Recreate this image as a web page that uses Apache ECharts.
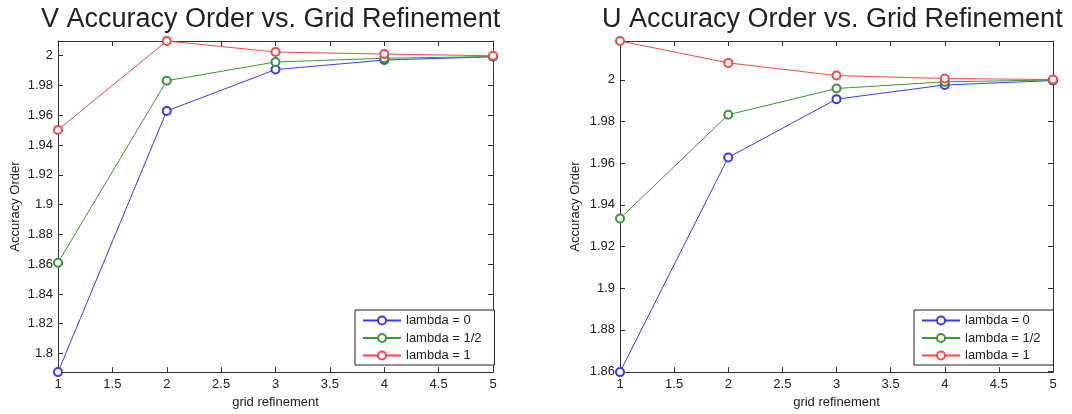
<!DOCTYPE html>
<html>
<head>
<meta charset="utf-8">
<script src="https://cdn.jsdelivr.net/npm/echarts@6/dist/echarts.min.js"></script>
<style>
html,body{margin:0;padding:0;background:#fff;}
#chart{width:1072px;height:414px;}
</style>
</head>
<body>
<div id="chart"></div>
<script>
// ---- data ----
const gridRefinement = [1, 2, 3, 4, 5];
const seriesNames = ['lambda = 0', 'lambda = 1/2', 'lambda = 1'];
const titles = ['V Accuracy Order vs. Grid Refinement', 'U Accuracy Order vs. Grid Refinement'];
const xAxisName = 'grid refinement';
const yAxisName = 'Accuracy Order';

const vLambda0   = [1.7875, 1.9629, 1.9907, 1.9971, 1.9993];
const vLambdaHalf = [1.8610, 1.9832, 1.9958, 1.9983, 1.9995];
const vLambda1   = [1.9502, 2.0099, 2.0025, 2.0011, 2.0000];

const uLambda0   = [1.8597, 1.9627, 1.9907, 1.9975, 1.9996];
const uLambdaHalf = [1.9334, 1.9832, 1.9958, 1.9990, 1.9999];
const uLambda1   = [2.0186, 2.0081, 2.0020, 2.0006, 2.0001];

const vYRange = [1.7875, 2.0099];
const uYRange = [1.8597, 2.0186];
const xRange = [1, 5];
const xStep = 0.5;
const yStep = 0.02;

// ---- styles ----
const colors = ['#3a3af2', '#3b963b', '#f04a4a'];
const FONT = 'Liberation Sans, Arial, sans-serif';
const axisColor = '#333';
const txtColor = '#222';

const grids = [
  {left: 58, right: 579, top: 41, bottom: 38},
  {left: 620, right: 19, top: 41, bottom: 38}
];

function fmt(v){ return String(parseFloat(v.toFixed(4))); }

const xAxes = [], yAxes = [], series = [];
[vYRange, uYRange].forEach((yr, gi) => {
  xAxes.push({
    type: 'value', gridIndex: gi, min: xRange[0], max: xRange[1], interval: xStep,
    position: 'bottom',
    name: xAxisName, nameLocation: 'middle', nameGap: 22,
    nameTextStyle: {fontFamily: FONT, fontSize: 13, color: txtColor},
    axisLine: {show: true, lineStyle: {color: axisColor, width: 1}},
    axisTick: {show: true, inside: true, length: 5, lineStyle: {color: axisColor}},
    axisLabel: {margin: 6, fontFamily: FONT, fontSize: 13, color: txtColor, formatter: fmt},
    splitLine: {show: false}
  });
  xAxes.push({
    type: 'value', gridIndex: gi, min: xRange[0], max: xRange[1], interval: xStep,
    position: 'top',
    axisLine: {show: true, lineStyle: {color: axisColor, width: 1}},
    axisTick: {show: true, inside: true, length: 5, lineStyle: {color: axisColor}},
    axisLabel: {show: false},
    splitLine: {show: false}
  });
  yAxes.push({
    type: 'value', gridIndex: gi, min: yr[0], max: yr[1],
    splitNumber: 10, minInterval: yStep, maxInterval: yStep,
    position: 'left',
    name: yAxisName, nameLocation: 'middle', nameGap: gi === 0 ? 36 : 38,
    nameTextStyle: {fontFamily: FONT, fontSize: 13, color: txtColor},
    axisLine: {show: true, lineStyle: {color: axisColor, width: 1}},
    axisTick: {show: true, inside: true, length: 5, lineStyle: {color: axisColor}},
    axisLabel: {margin: 5, fontFamily: FONT, fontSize: 13, color: txtColor,
      showMinLabel: false, showMaxLabel: false, formatter: fmt},
    splitLine: {show: false}
  });
  yAxes.push({
    type: 'value', gridIndex: gi, min: yr[0], max: yr[1],
    splitNumber: 10, minInterval: yStep, maxInterval: yStep,
    position: 'right',
    axisLine: {show: true, lineStyle: {color: axisColor, width: 1}},
    axisTick: {show: true, inside: true, length: 5, lineStyle: {color: axisColor}},
    axisLabel: {show: false},
    splitLine: {show: false}
  });
});

const dataSets = [[vLambda0, vLambdaHalf, vLambda1], [uLambda0, uLambdaHalf, uLambda1]];
dataSets.forEach((sets, gi) => {
  sets.forEach((vals, si) => {
    series.push({
      name: seriesNames[si], type: 'line',
      xAxisIndex: gi * 2, yAxisIndex: gi * 2,
      data: gridRefinement.map((x, i) => [x, vals[i]]),
      symbol: 'emptyCircle', symbolSize: 8,
      lineStyle: {color: colors[si], width: 1},
      itemStyle: {color: colors[si], borderWidth: 1},
      clip: false, animation: false,
      emphasis: {disabled: true}
    });
  });
});

function legendAt(left) {
  return {
    data: seriesNames, orient: 'vertical', left: left, top: 310,
    backgroundColor: '#fff', borderColor: '#222', borderWidth: 1,
    padding: [4, 13, 3, 7], itemGap: 4.5, itemWidth: 38, itemHeight: 10,
    textStyle: {fontFamily: FONT, fontSize: 13, color: txtColor},
    selectedMode: false
  };
}

const option = {
  backgroundColor: '#fff',
  animation: false,
  color: colors,
  title: [
    {text: titles[0], left: 41, top: 6, padding: 0,
     textStyle: {fontFamily: FONT, fontSize: 27, fontWeight: 'normal', color: txtColor}},
    {text: titles[1], left: 602, top: 6, padding: 0,
     textStyle: {fontFamily: FONT, fontSize: 27, fontWeight: 'normal', color: txtColor}}
  ],
  legend: [legendAt(355), legendAt(914)],
  grid: grids,
  xAxis: xAxes,
  yAxis: yAxes,
  series: series
};

const chart = echarts.init(document.getElementById('chart'), null, {renderer: 'canvas'});
chart.setOption(option);
</script>
</body>
</html>
